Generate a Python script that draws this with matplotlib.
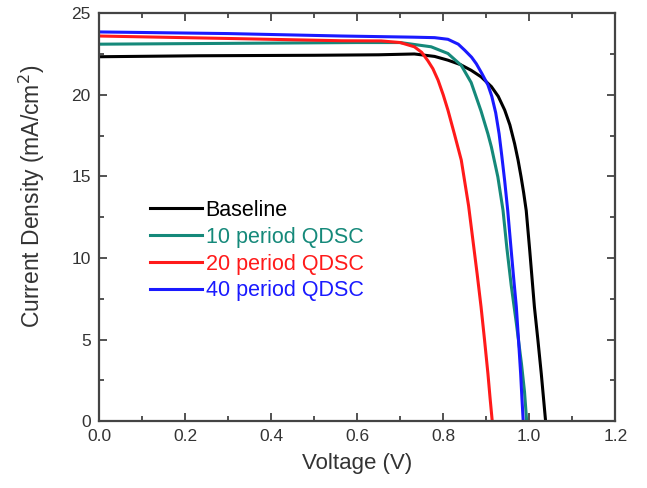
import matplotlib.pyplot as plt
from matplotlib.ticker import MultipleLocator

plt.rcParams['font.family'] = ['Liberation Sans', 'DejaVu Sans']

# J-V curves: voltage (V), current density (mA/cm^2)
v_base = [0.0, 0.23, 0.5, 0.65, 0.733, 0.78, 0.811, 0.84, 0.865, 0.888, 0.912, 0.928,
          0.943, 0.955, 0.966, 0.974, 0.981, 0.987, 0.993, 1.001, 1.012,
          1.020, 1.028, 1.033, 1.038]
j_base = [22.33, 22.39, 22.42, 22.45, 22.5, 22.35, 22.12, 21.85, 21.5, 21.1, 20.5, 19.9,
          19.06, 18.15, 17.0, 16.0, 14.97, 14.0, 12.9, 10.5, 7.0,
          5.0, 2.9, 1.45, 0.0]

v_10 = [0.0, 0.3, 0.6, 0.7, 0.772, 0.811, 0.842, 0.865, 0.888, 0.904, 0.912, 0.927,
        0.939, 0.948, 0.958, 0.970, 0.982, 0.989, 0.994]
j_10 = [23.1, 23.15, 23.2, 23.2, 22.94, 22.53, 21.8, 20.75, 19.0, 17.6, 16.8, 14.97,
        12.93, 10.6, 8.34, 6.0, 3.5, 1.8, 0.0]

v_20 = [0.0, 0.3, 0.565, 0.656, 0.70, 0.733, 0.75, 0.764, 0.776, 0.788, 0.80, 0.811,
        0.826, 0.842, 0.859, 0.869, 0.879, 0.888, 0.896, 0.904, 0.909, 0.914]
j_20 = [23.6, 23.45, 23.31, 23.3, 23.2, 22.94, 22.6, 22.1, 21.6, 20.9, 20.0, 19.06,
        17.6, 16.0, 13.2, 11.1, 9.0, 7.0, 5.0, 2.9, 1.4, 0.0]

v_40 = [0.0, 0.3, 0.565, 0.73, 0.78, 0.811, 0.835, 0.850, 0.866, 0.877, 0.89, 0.904,
        0.913, 0.922, 0.930, 0.936, 0.943, 0.950, 0.958, 0.964, 0.970, 0.975, 0.980,
        0.983, 0.986]
j_40 = [23.85, 23.75, 23.6, 23.53, 23.5, 23.4, 23.1, 22.73, 22.3, 21.9, 21.3, 20.6,
        19.9, 18.9, 17.6, 16.3, 14.7, 12.9, 10.48, 8.7, 7.0, 5.0, 2.92,
        1.4, 0.0]

labels = ["Baseline", "10 period QDSC", "20 period QDSC", "40 period QDSC"]
colors = ["#000000", "#15897a", "#ff1a1a", "#1a1aff"]

fig = plt.figure(figsize=(6.47, 4.88), dpi=100)
ax = fig.add_axes([0.153, 0.137, 0.798, 0.836])

for v, j, lab, c in zip([v_base, v_10, v_20, v_40], [j_base, j_10, j_20, j_40], labels, colors):
    ax.plot(v, j, color=c, lw=2.2, label=lab)

ax.set_xlim(0, 1.2)
ax.set_ylim(0, 25)
ax.xaxis.set_major_locator(MultipleLocator(0.2))
ax.xaxis.set_minor_locator(MultipleLocator(0.1))
ax.yaxis.set_major_locator(MultipleLocator(5))
ax.yaxis.set_minor_locator(MultipleLocator(2.5))
ax.xaxis.set_major_formatter(plt.FuncFormatter(lambda x, p: f"{x:.1f}"))

txt = "#333333"
ax.tick_params(which='both', direction='in', top=True, right=True, colors='#444444',
               labelcolor=txt, labelsize=12.5, pad=6)
ax.tick_params(which='major', length=6, width=1.3)
ax.tick_params(which='minor', length=3.5, width=1.3)
for s in ax.spines.values():
    s.set_linewidth(1.6)
    s.set_color('#444444')

ax.set_xlabel("Voltage (V)", fontsize=16, color=txt, labelpad=6)
ax.set_ylabel("Current Density (mA/cm$^2$)", fontsize=16.5, color=txt)
ax.yaxis.set_label_coords(-0.10, 0.55)

leg = ax.legend(loc='upper left', bbox_to_anchor=(0.099, 0.542), frameon=False,
                fontsize=15.5, handlelength=2.4, handletextpad=0.18, labelspacing=0.27,
                borderaxespad=0, borderpad=0)
for t, c in zip(leg.get_texts(), colors):
    t.set_color(c)

fig.savefig("out.png", dpi=100)
